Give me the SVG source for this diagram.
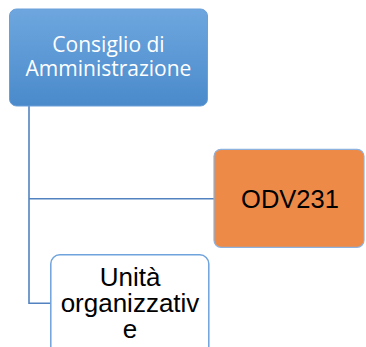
<svg xmlns="http://www.w3.org/2000/svg" width="366" height="347" viewBox="0 0 366 347">
  <style>
    .conn { fill: none; stroke: #5283c0; stroke-width: 1.6; }
    .lbl { font-family: "Liberation Sans", Arial, sans-serif; fill: #000000; text-anchor: middle; }
    .lblw { font-family: "Open Sans", "Noto Sans", sans-serif; fill: #ffffff; text-anchor: middle; }
  </style>
  <defs>
    <linearGradient id="gBlue" x1="0" y1="0" x2="0" y2="1">
      <stop offset="0" stop-color="#6ea7df"/>
      <stop offset="1" stop-color="#4a8acb"/>
    </linearGradient>
  </defs>
  <g id="connectors">
    <path class="conn" d="M29,106 V303.3 H51"/>
    <path class="conn" d="M29,198.7 H214"/>
  </g>
  <g id="node-consiglio">
    <rect x="9.5" y="9" width="198" height="97" rx="7" ry="7" fill="url(#gBlue)" stroke="#6a9fd8" stroke-width="1"/>
    <text class="lblw" x="108.5" y="51.5" font-size="21">Consiglio di</text>
    <text class="lblw" x="108.5" y="76" font-size="21">Amministrazione</text>
  </g>
  <g id="node-odv231">
    <rect x="214" y="149.3" width="150" height="98" rx="7" ry="7" fill="#ee8a48" stroke="#8db2df" stroke-width="1.2"/>
    <text class="lbl" x="290" y="207.5" font-size="25.5">ODV231</text>
  </g>
  <g id="node-unita">
    <rect x="50.8" y="254.8" width="158" height="110" rx="9" ry="9" fill="#ffffff" stroke="#6fa3dc" stroke-width="1.5"/>
    <text class="lbl" x="130" y="286" font-size="26">Unità</text>
    <text class="lbl" x="130" y="312" font-size="26">organizzativ</text>
    <text class="lbl" x="130" y="338" font-size="26">e</text>
  </g>
</svg>
